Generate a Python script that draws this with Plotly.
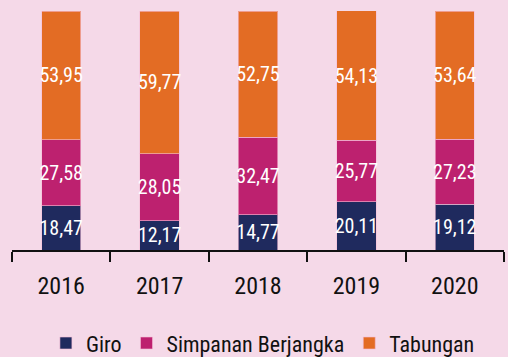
import plotly.graph_objects as go

years = ["2016", "2017", "2018", "2019", "2020"]
giro = [18.47, 12.17, 14.77, 20.11, 19.12]
simpanan_berjangka = [27.58, 28.05, 32.47, 25.77, 27.23]
tabungan = [53.95, 59.77, 52.75, 54.13, 53.64]

series = [
    ("Giro", giro, "#1f2a5e"),
    ("Simpanan Berjangka", simpanan_berjangka, "#bd216f"),
    ("Tabungan", tabungan, "#e36c24"),
]

FONT = "Roboto Condensed, DejaVu Sans Condensed, sans-serif"
BG = "#f5d9e8"

fig = go.Figure()
for name, vals, color in series:
    fig.add_trace(go.Bar(
        name=name,
        x=years,
        y=vals,
        marker=dict(color=color, line=dict(color="rgba(245,190,215,0.6)", width=1)),
        text=[f"{v:.2f}".replace(".", ",") for v in vals],
        textposition="inside",
        insidetextanchor="middle",
        textangle=0,
        textfont=dict(family=FONT, size=20, color="white"),
        constraintext="none",
        hoverinfo="skip",
    ))

fig.update_layout(
    barmode="stack",
    bargap=0.6,
    width=508,
    height=357,
    margin=dict(l=12, r=4, t=11, b=107, autoexpand=False),
    paper_bgcolor=BG,
    plot_bgcolor=BG,
    font=dict(family=FONT, color="#111111"),
    uniformtext=dict(mode=False),
    legend=dict(
        orientation="h",
        x=0.51,
        xanchor="center",
        y=-0.39,
        yanchor="middle",
        traceorder="normal",
        font=dict(family=FONT, size=22, color="#111111"),
        itemwidth=30,
        bgcolor="rgba(0,0,0,0)",
    ),
    xaxis=dict(
        type="category",
        automargin=False,
        showline=True,
        linecolor="#111111",
        linewidth=2,
        ticks="outside",
        tickson="boundaries",
        ticklen=10,
        tickwidth=2,
        tickcolor="#111111",
        tickfont=dict(family=FONT, size=24, color="#111111"),
        ticklabelstandoff=13,
        showgrid=False,
        zeroline=False,
    ),
    yaxis=dict(
        range=[0, 100],
        visible=False,
        showgrid=False,
        zeroline=False,
    ),
)

fig.write_html("out.html")
